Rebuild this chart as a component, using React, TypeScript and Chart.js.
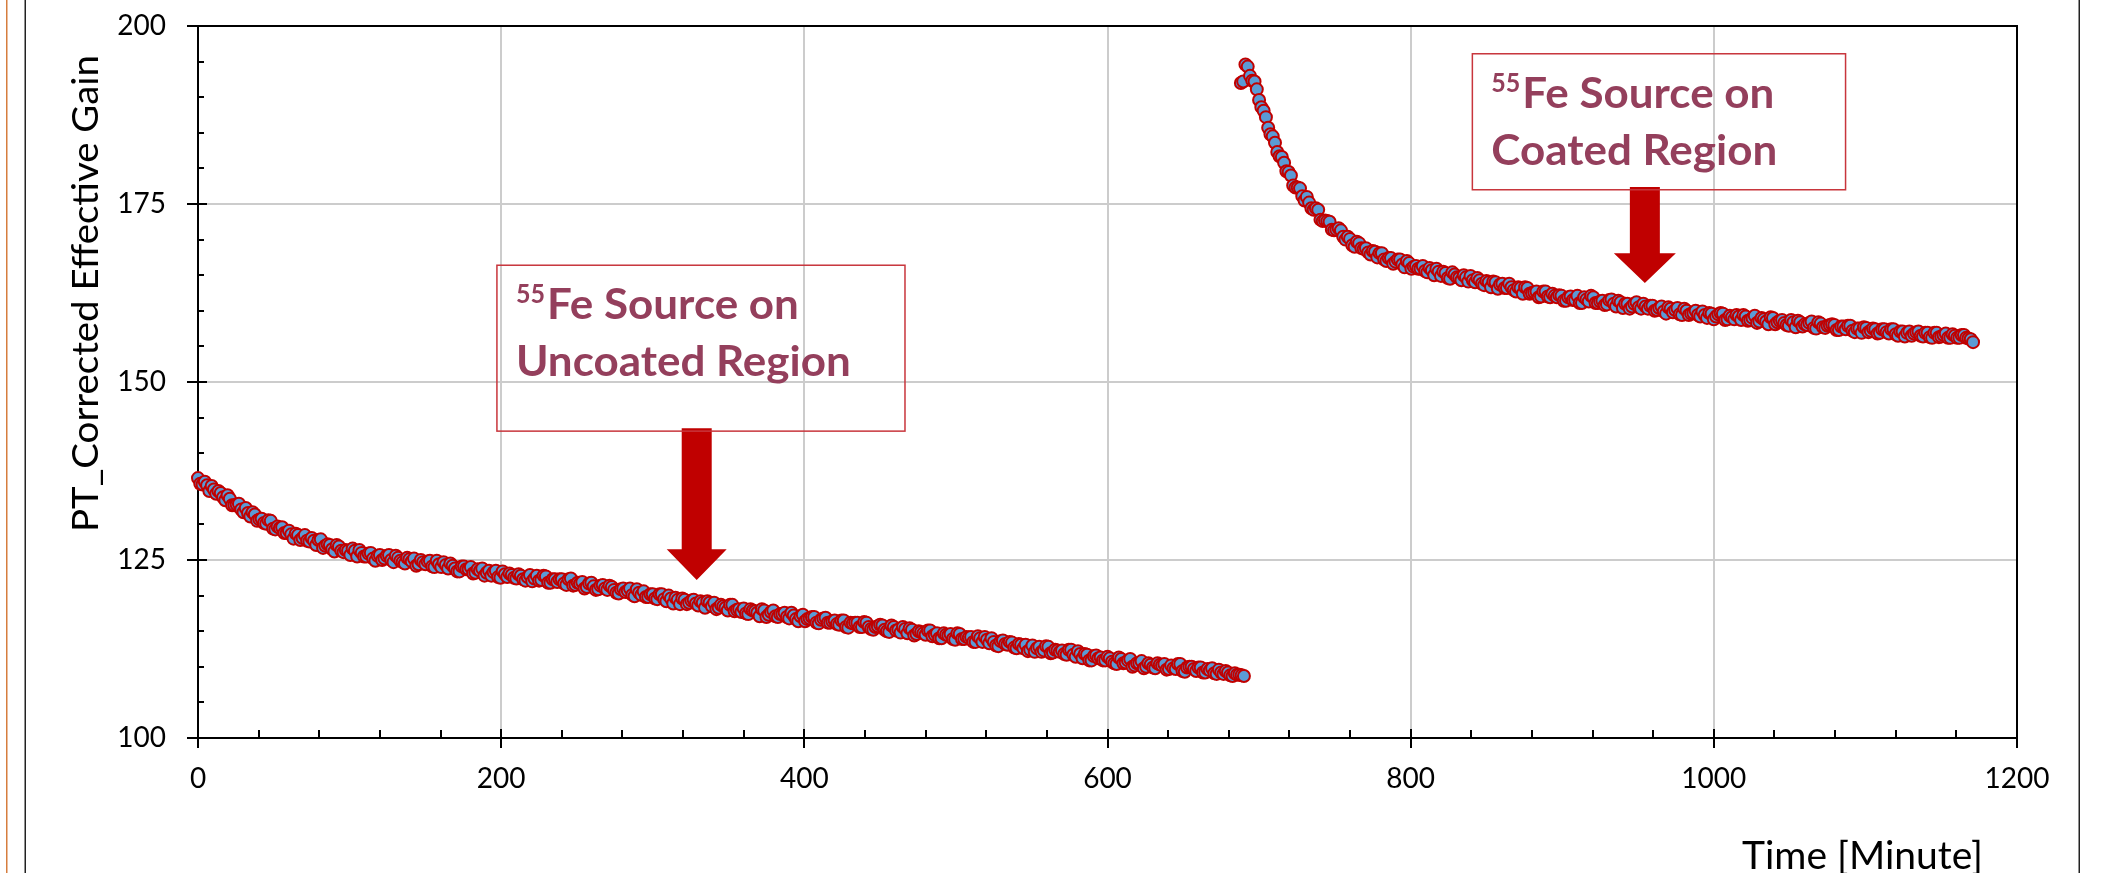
import React, { useEffect, useRef } from 'react';
import { Chart, registerables } from 'chart.js';

Chart.register(...registerables);

// ---------- DATA ----------
// Uncoated region run. Two interleaved sample sets: every 3 min from 0 min,
// and every 3 min from 1.5 min.
const UNCOATED_START_MIN = 0;
const UNCOATED_STEP_MIN = 3;
const uncoatedGain = [
  136.5, 135.6, 135.5, 135.4, 134.3, 134.4, 133.4, 133.6, 132.7, 132.9,
  131.7, 131.6, 131.7, 130.5, 130.8, 130.1, 130.5, 129.3, 129.5, 128.8,
  129.1, 128.0, 128.5, 128.1, 127.7, 128.1, 127.1, 127.9, 127.0, 127.1,
  126.2, 126.9, 126.1, 126.3, 126.6, 125.5, 126.0, 125.5, 126.0, 124.9,
  125.7, 125.2, 125.7, 124.7, 125.3, 124.7, 125.3, 124.8, 124.2, 125.0,
  124.4, 124.9, 124.0, 124.4, 124.7, 123.8, 124.2, 123.4, 124.1, 123.7,
  124.0, 123.2, 123.5, 122.8, 123.5, 123.3, 122.6, 123.4, 122.6, 122.9,
  122.4, 122.8, 122.1, 122.9, 122.4, 122.1, 122.8, 121.8, 122.3, 121.9,
  122.3, 121.5, 122.4, 121.5, 121.7, 121.0, 121.7, 121.3, 120.9, 121.5,
  120.8, 121.2, 120.4, 120.9, 120.5, 121.0, 119.9, 120.4, 120.6, 119.8,
  120.2, 119.5, 120.2, 119.2, 119.6, 119.7, 118.8, 119.4, 119.0, 119.4,
  118.6, 119.0, 119.2, 118.5, 118.1, 118.7, 118.3, 118.7, 117.8, 118.1,
  118.2, 117.4, 117.9, 117.6, 118.1, 117.0, 117.7, 117.1, 117.4, 117.6,
  116.8, 117.2, 116.4, 117.3, 116.7, 117.0, 116.2, 116.6, 116.9, 116.2,
  116.5, 115.9, 116.5, 115.5, 116.1, 116.2, 115.6, 116.2, 115.3, 115.6,
  115.9, 115.2, 114.9, 115.6, 115.2, 115.6, 114.7, 115.2, 114.6, 114.9,
  114.5, 115.1, 114.5, 114.0, 114.7, 114.4, 113.9, 114.7, 113.9, 114.2,
  114.2, 113.5, 114.0, 114.2, 113.3, 113.5, 112.9, 113.7, 113.1, 113.4,
  112.6, 113.1, 113.1, 112.4, 112.1, 112.8, 112.3, 112.8, 112.0, 112.3,
  112.3, 111.7, 112.4, 111.4, 111.8, 111.8, 110.9, 111.5, 111.2, 110.9,
  111.4, 110.7, 110.4, 111.1, 110.6, 111.1, 110.2, 110.5, 109.8, 110.5,
  109.9, 110.5, 110.2, 109.6, 110.2, 109.7, 110.4, 109.3, 110.0, 109.7,
  109.9, 109.2, 109.7, 109.8, 109.0, 109.2, 109.4, 108.8, 109.1, 108.9,
  108.7,
];
const UNCOATED_B_START_MIN = 1.5;
const uncoatedGainB = [
  135.7, 136.0, 134.7, 134.9, 134.7, 133.8, 134.1, 132.7, 132.8, 132.1,
  132.3, 131.1, 131.4, 130.7, 130.2, 130.6, 129.4, 129.7, 129.6, 128.8,
  128.6, 128.7, 127.8, 128.5, 127.6, 127.7, 127.8, 126.7, 127.2, 126.5,
  127.1, 126.3, 126.4, 125.7, 126.3, 126.4, 125.5, 125.9, 125.2, 125.6,
  125.0, 125.6, 125.0, 125.6, 124.9, 124.5, 125.1, 125.2, 124.4, 124.7,
  124.8, 124.1, 124.9, 124.0, 124.3, 124.5, 123.8, 123.4, 124.1, 123.7,
  123.1, 123.7, 123.8, 123.2, 122.8, 123.5, 122.5, 123.0, 123.1, 122.5,
  123.0, 122.3, 122.6, 122.0, 122.8, 122.2, 122.7, 121.8, 122.3, 122.3,
  121.7, 122.3, 121.4, 121.8, 121.9, 121.2, 121.8, 120.8, 121.4, 121.0,
  121.4, 120.8, 120.3, 121.0, 120.7, 120.1, 120.9, 120.1, 119.8, 120.2,
  119.6, 120.2, 119.5, 120.0, 118.9, 119.4, 119.6, 118.8, 119.3, 118.9,
  119.2, 118.3, 119.0, 119.0, 118.3, 118.5, 117.9, 118.7, 118.0, 117.7,
  117.5, 118.1, 117.8, 117.1, 117.9, 117.3, 117.9, 117.0, 117.4, 117.0,
  117.6, 116.7, 117.1, 116.4, 116.8, 117.0, 116.1, 116.8, 116.2, 116.4,
  116.0, 116.5, 115.6, 116.2, 116.2, 115.6, 116.3, 115.6, 115.2, 115.7,
  115.8, 115.0, 115.8, 115.1, 114.8, 115.3, 115.4, 114.4, 115.0, 114.7,
  115.1, 114.3, 114.7, 114.0, 114.5, 114.6, 113.8, 114.6, 113.9, 114.1,
  113.5, 114.3, 113.5, 113.8, 114.0, 113.0, 113.6, 113.2, 113.5, 112.7,
  113.2, 112.6, 112.2, 113.0, 112.6, 112.1, 112.9, 111.9, 112.4, 112.1,
  111.8, 112.4, 111.7, 112.2, 111.2, 111.7, 110.9, 111.6, 111.3, 110.9,
  111.2, 110.5, 111.3, 110.5, 110.9, 110.0, 110.5, 110.8, 110.0, 110.3,
  109.8, 110.3, 110.4, 109.7, 109.8, 110.4, 109.4, 109.9, 110.0, 109.4,
  109.9, 109.2, 109.5, 109.1, 109.6, 109.0, 109.2, 108.7, 108.9, 108.8,
];

// Coated region run. Two interleaved sample sets: every 3 min from 688 min,
// and every 3 min from 689.5 min.
const COATED_START_MIN = 688;
const COATED_STEP_MIN = 3;
const coatedGain = [
  192.0, 194.6, 193.0, 192.2, 189.6, 188.1, 185.7, 184.5, 182.3, 181.6,
  179.6, 179.0, 177.3, 177.2, 175.5, 175.2, 174.2, 174.2, 172.6, 172.6,
  171.4, 171.4, 171.3, 170.0, 170.1, 169.0, 169.5, 168.7, 168.2, 168.4,
  167.5, 168.1, 167.0, 167.4, 166.9, 167.2, 166.1, 166.7, 166.2, 165.9,
  166.3, 165.4, 165.7, 165.9, 164.9, 165.3, 164.5, 165.1, 164.6, 165.0,
  164.1, 164.3, 164.6, 163.8, 164.2, 163.3, 164.0, 163.7, 163.2, 163.8,
  162.9, 163.3, 162.4, 163.2, 162.5, 162.7, 162.0, 162.7, 161.9, 162.1,
  162.2, 161.4, 161.9, 161.5, 162.1, 161.1, 161.6, 162.1, 161.1, 161.3,
  160.8, 161.5, 161.0, 161.4, 160.4, 161.0, 160.6, 161.2, 160.3, 160.6,
  160.7, 160.0, 160.4, 159.9, 160.5, 159.8, 160.4, 159.4, 160.0, 159.6,
  160.0, 159.2, 159.4, 159.7, 158.8, 159.5, 159.6, 158.8, 159.1, 159.4,
  158.7, 159.2, 158.7, 159.3, 158.5, 158.8, 158.1, 159.0, 158.4, 158.7,
  158.0, 158.7, 157.7, 158.4, 158.1, 158.3, 157.6, 158.4, 157.7, 157.9,
  158.1, 157.3, 157.8, 157.4, 157.9, 157.0, 157.5, 157.7, 157.0, 157.5,
  156.8, 157.4, 157.0, 157.4, 156.7, 157.1, 156.4, 157.1, 156.8, 157.1,
  156.4, 156.9, 156.2, 156.9, 156.4, 156.8, 156.2, 156.5, 156.2, 156.6,
  156.1, 155.6,
];
const COATED_B_START_MIN = 689.5;
const coatedGainB = [
  192.2, 194.3, 192.3, 191.1, 188.6, 187.2, 184.8, 183.6, 181.7, 180.8,
  179.5, 177.6, 177.3, 176.1, 176.0, 174.4, 174.4, 172.8, 172.7, 172.5,
  171.3, 171.6, 170.4, 170.4, 169.2, 169.7, 168.8, 168.8, 167.9, 168.3,
  168.1, 167.2, 167.4, 166.6, 167.2, 166.5, 167.0, 165.9, 166.3, 165.9,
  165.6, 166.0, 165.0, 165.5, 165.5, 164.6, 165.4, 164.7, 164.3, 164.7,
  164.9, 164.0, 164.3, 163.6, 164.0, 164.1, 163.1, 163.8, 163.2, 163.3,
  162.7, 163.2, 163.3, 162.4, 162.6, 161.9, 162.7, 162.0, 162.4, 161.9,
  162.1, 161.4, 162.0, 161.5, 161.1, 161.9, 161.3, 161.9, 161.1, 161.4,
  160.9, 161.6, 160.6, 161.2, 161.0, 160.3, 161.0, 160.5, 161.0, 160.3,
  160.7, 160.1, 160.6, 159.6, 160.3, 160.1, 159.5, 160.3, 159.4, 159.7,
  159.4, 159.9, 159.0, 159.6, 159.2, 159.7, 158.7, 159.3, 158.8, 159.2,
  159.4, 158.6, 159.0, 158.3, 159.0, 158.5, 159.1, 158.1, 158.6, 158.3,
  157.9, 158.4, 158.6, 157.8, 158.0, 158.5, 157.5, 158.2, 157.6, 158.0,
  158.0, 157.3, 157.8, 157.9, 157.2, 157.5, 156.9, 157.6, 157.2, 157.4,
  156.9, 157.4, 156.8, 157.4, 156.5, 157.1, 156.9, 156.5, 157.0, 156.5,
  156.9, 156.3, 156.9, 156.3, 156.6, 156.2, 156.7, 156.2, 156.6, 156.2,
  156.0,
];

const X_MIN = 0;
const X_MAX = 1200;
const X_MAJOR_STEP = 200;
const X_MINOR_STEP = 40;
const Y_MIN = 100;
const Y_MAX = 200;
const Y_MAJOR_STEP = 25;
const Y_MINOR_STEP = 5;

const yAxisTitle = 'PT_Corrected Effective Gain';
const xAxisTitle = 'Time [Minute]';

const noteSup = '55';
const noteLine1 = 'Fe Source on';
const uncoatedLine2 = 'Uncoated Region';
const coatedLine2 = 'Coated Region';

// ---------- STYLE / LAYOUT ----------
const W = 2110;
const H = 873;
const FONT = 'Lato, Carlito, "Open Sans", sans-serif';
const MARKER_FILL = '#5B9BD5';
const MARKER_EDGE = '#C00000';
const ARROW_COLOR = '#C00000';
const BOX_COLOR = '#C8353C';
const NOTE_COLOR = '#943F5C';
const GRID_COLOR = '#CCCCCC';

// annotation boxes/arrows anchored in data coordinates
const notes = [
  {
    line2: uncoatedLine2,
    box: { x0: 197.2, x1: 466.4, y0: 166.4, y1: 143.1 },
    arrow: { x: 329, top: 143.5, headStart: 126.5, tip: 122.2, shaftW: 30, headW: 60 },
  },
  {
    line2: coatedLine2,
    box: { x0: 840.7, x1: 1086.9, y0: 196.1, y1: 177.0 },
    arrow: { x: 954.5, top: 177.4, headStart: 168.1, tip: 163.9, shaftW: 30, headW: 62 },
  },
];

function toPoints(start: number, step: number, values: number[]) {
  return values.map((v, i) => ({ x: start + i * step, y: v }));
}

function mergeRuns(a: { x: number; y: number }[], b: { x: number; y: number }[]) {
  return a.concat(b).sort((p, q) => p.x - q.x);
}

function fillStretched(
  ctx: CanvasRenderingContext2D,
  text: string,
  x: number,
  y: number,
  sx: number
) {
  ctx.save();
  ctx.translate(x, y);
  ctx.scale(sx, 1);
  ctx.fillText(text, 0, 0);
  ctx.restore();
}

const decorPlugin = {
  id: 'decor',
  beforeDatasetsDraw(chart: any) {
    const { ctx, chartArea: a, scales } = chart;
    const xs = scales.x;
    const ys = scales.y;
    ctx.save();
    // page decoration lines
    ctx.fillStyle = '#D67D3E';
    ctx.fillRect(6, 0, 1.5, H);
    ctx.fillStyle = '#222';
    ctx.fillRect(24.5, 0, 1.5, H);
    ctx.fillRect(2078.5, 0, 1.5, H);

    ctx.fillStyle = '#000';
    // plot frame
    ctx.fillRect(a.left - 1, a.top - 1, a.right - a.left + 2, 2);
    ctx.fillRect(a.right - 1, a.top - 1, 2, a.bottom - a.top + 2);
    ctx.fillRect(a.left - 1, a.top - 1, 2, a.bottom - a.top + 2);
    ctx.fillRect(a.left - 1, a.bottom - 1, a.right - a.left + 2, 2);
    // y ticks
    for (let v = Y_MIN; v <= Y_MAX + 1e-9; v += Y_MINOR_STEP) {
      const py = Math.round(ys.getPixelForValue(v));
      if (Math.abs((v - Y_MIN) % Y_MAJOR_STEP) < 1e-9) {
        ctx.fillRect(a.left - 11, py - 1, 20, 2);
      } else {
        ctx.fillRect(a.left, py - 1, 6, 2);
      }
    }
    // x ticks
    for (let v = X_MIN; v <= X_MAX + 1e-9; v += X_MINOR_STEP) {
      const px = Math.round(xs.getPixelForValue(v));
      if (Math.abs((v - X_MIN) % X_MAJOR_STEP) < 1e-9) {
        ctx.fillRect(px - 1, a.bottom - 9, 2, 19);
      } else {
        ctx.fillRect(px - 1, a.bottom - 8, 2, 8);
      }
    }
    ctx.restore();
  },
  afterDraw(chart: any) {
    const { ctx, scales } = chart;
    const xs = scales.x;
    const ys = scales.y;
    ctx.save();
    ctx.fillStyle = '#000';
    ctx.textAlign = 'left';
    ctx.textBaseline = 'alphabetic';

    // y axis title (rotated)
    ctx.font = `37px ${FONT}`;
    const yw = ctx.measureText(yAxisTitle).width;
    ctx.save();
    ctx.translate(98, 532);
    ctx.rotate(-Math.PI / 2);
    ctx.scale(477 / yw, 1);
    ctx.fillText(yAxisTitle, 0, 0);
    ctx.restore();

    // x axis title
    ctx.font = `38px ${FONT}`;
    const xw = ctx.measureText(xAxisTitle).width;
    fillStretched(ctx, xAxisTitle, 1742, 869, 241 / xw);

    // annotations
    for (const n of notes) {
      const bl = xs.getPixelForValue(n.box.x0);
      const br = xs.getPixelForValue(n.box.x1);
      const bt = ys.getPixelForValue(n.box.y0);
      const bb = ys.getPixelForValue(n.box.y1);

      // arrow
      const ax = xs.getPixelForValue(n.arrow.x);
      const aTop = ys.getPixelForValue(n.arrow.top);
      const aHead = ys.getPixelForValue(n.arrow.headStart);
      const aTip = ys.getPixelForValue(n.arrow.tip);
      ctx.fillStyle = ARROW_COLOR;
      ctx.beginPath();
      ctx.moveTo(ax - n.arrow.shaftW / 2, aTop);
      ctx.lineTo(ax + n.arrow.shaftW / 2, aTop);
      ctx.lineTo(ax + n.arrow.shaftW / 2, aHead);
      ctx.lineTo(ax + n.arrow.headW / 2, aHead);
      ctx.lineTo(ax, aTip);
      ctx.lineTo(ax - n.arrow.headW / 2, aHead);
      ctx.lineTo(ax - n.arrow.shaftW / 2, aHead);
      ctx.closePath();
      ctx.fill();

      // box
      ctx.strokeStyle = BOX_COLOR;
      ctx.lineWidth = 1.5;
      ctx.strokeRect(bl, bt, br - bl, bb - bt);

      // text
      ctx.fillStyle = NOTE_COLOR;
      ctx.font = `bold 42px ${FONT}`;
      const l1w = ctx.measureText(noteLine1).width;
      const sx = 252 / l1w;
      fillStretched(ctx, noteLine1, bl + 50, bt + 54, sx);
      fillStretched(ctx, n.line2, bl + 19, bt + 111, sx);
      ctx.font = `bold 26px ${FONT}`;
      const sw = ctx.measureText(noteSup).width;
      fillStretched(ctx, noteSup, bl + 19, bt + 38, 29 / sw);
    }
    ctx.restore();
  },
};

export default function App() {
  const canvasRef = useRef<HTMLCanvasElement | null>(null);

  useEffect(() => {
    document.body.style.margin = '0';
    let chart: Chart | null = null;
    let cancelled = false;
    const fonts: any = (document as any).fonts;
    const ready = fonts
      ? Promise.all([
          fonts.load(`28px ${FONT}`),
          fonts.load(`37px ${FONT}`),
          fonts.load(`bold 42px ${FONT}`),
        ]).catch(() => undefined)
      : Promise.resolve();

    ready.then(() => {
      if (cancelled || !canvasRef.current) return;
      const markerStyle = {
        backgroundColor: MARKER_FILL,
        borderColor: MARKER_EDGE,
        pointRadius: 6,
        pointBorderWidth: 2,
        showLine: false,
        clip: false as any,
      };
      chart = new Chart(canvasRef.current, {
        type: 'scatter',
        data: {
          datasets: [
            {
              label: 'Uncoated',
              data: mergeRuns(
                toPoints(UNCOATED_START_MIN, UNCOATED_STEP_MIN, uncoatedGain),
                toPoints(UNCOATED_B_START_MIN, UNCOATED_STEP_MIN, uncoatedGainB)
              ),
              ...markerStyle,
            },
            {
              label: 'Coated',
              data: mergeRuns(
                toPoints(COATED_START_MIN, COATED_STEP_MIN, coatedGain),
                toPoints(COATED_B_START_MIN, COATED_STEP_MIN, coatedGainB)
              ),
              ...markerStyle,
            },
          ],
        },
        options: {
          responsive: false,
          maintainAspectRatio: false,
          devicePixelRatio: 1,
          animation: false,
          events: [],
          layout: { padding: { left: 98, right: 93, top: 26, bottom: 55 } },
          plugins: {
            legend: { display: false },
            tooltip: { enabled: false },
            title: { display: false },
          },
          scales: {
            x: {
              type: 'linear',
              min: X_MIN,
              max: X_MAX,
              afterFit: (s: any) => {
                s.height = 80;
                s.paddingLeft = 0;
                s.paddingRight = 0;
              },
              ticks: {
                stepSize: X_MAJOR_STEP,
                maxRotation: 0,
                autoSkip: false,
                padding: 24,
                color: '#000',
                font: { family: FONT, size: 28 },
                callback: (v: any) => String(v),
              },
              grid: { color: GRID_COLOR, lineWidth: 2, drawTicks: false },
              border: { display: false },
            },
            y: {
              type: 'linear',
              min: Y_MIN,
              max: Y_MAX,
              afterFit: (s: any) => {
                s.width = 100;
                s.paddingTop = 0;
                s.paddingBottom = 0;
              },
              ticks: {
                stepSize: Y_MAJOR_STEP,
                autoSkip: false,
                padding: 32,
                color: '#000',
                font: { family: FONT, size: 28 },
                callback: (v: any) => String(v),
              },
              grid: { color: GRID_COLOR, lineWidth: 2, drawTicks: false },
              border: { display: false },
            },
          },
        },
        plugins: [decorPlugin],
      });
    });

    return () => {
      cancelled = true;
      if (chart) chart.destroy();
    };
  }, []);

  return (
    <div style={{ position: 'absolute', left: 0, top: 0, width: W, height: H, background: '#fff' }}>
      <canvas ref={canvasRef} width={W} height={H} style={{ display: 'block', width: W, height: H }} />
    </div>
  );
}
